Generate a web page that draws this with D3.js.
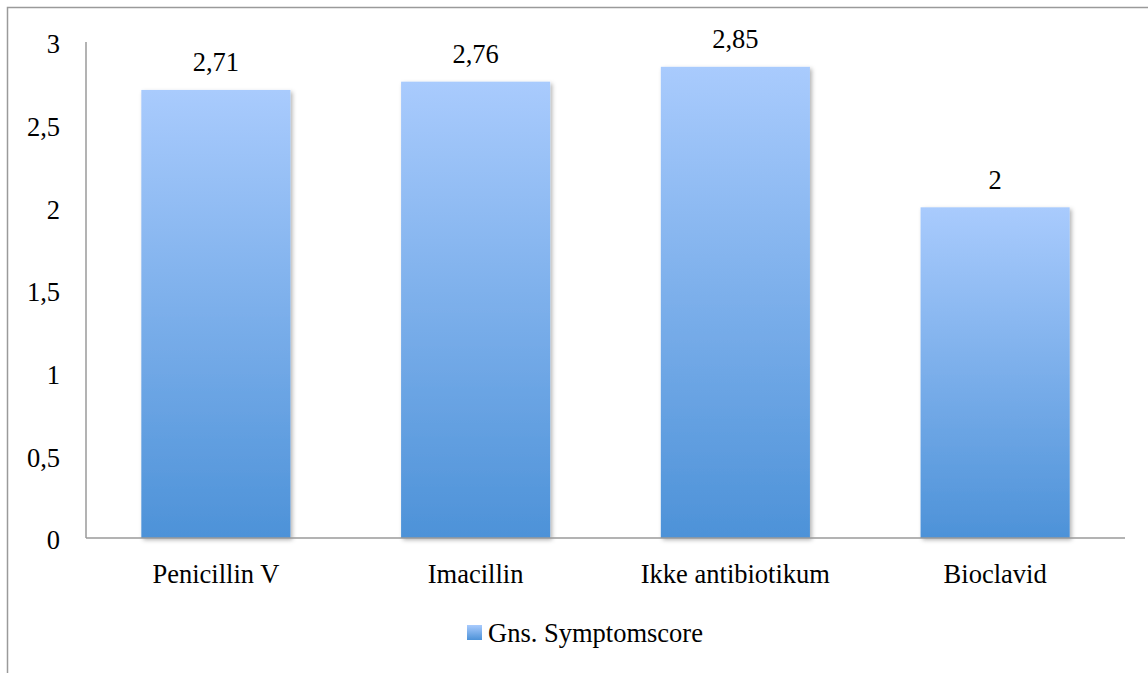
<!DOCTYPE html>
<html>
<head>
<meta charset="utf-8">
<script src="https://cdn.jsdelivr.net/npm/d3@7"></script>
<style>
  body { margin: 0; background: #fff; }
  svg text { font-family: "Liberation Serif", "DejaVu Serif", serif; fill: #000; }
</style>
</head>
<body>
<div class="chart"></div>
<script>
const categories = ["Penicillin V", "Imacillin", "Ikke antibiotikum", "Bioclavid"];
const values = [2.71, 2.76, 2.85, 2];
const valueLabels = ["2,71", "2,76", "2,85", "2"];
const yTicks = [0, 0.5, 1, 1.5, 2, 2.5, 3];
const seriesName = "Gns. Symptomscore";

function init() {
    const w = 1148;
    const h = 673;
    const margin = { left: 86, right: 23, top: 42, bottom: 135 };
    const fontSize = "26.5px";

    const svg = d3.select(".chart")
        .append("svg")
        .attr("width", w)
        .attr("height", h);

    // gradient + shadow like the office chart
    const defs = svg.append("defs");
    const grad = defs.append("linearGradient")
        .attr("id", "barGrad")
        .attr("x1", 0).attr("y1", 0).attr("x2", 0).attr("y2", 1);
    grad.append("stop").attr("offset", "0%").attr("stop-color", "#a9cbfd");
    grad.append("stop").attr("offset", "100%").attr("stop-color", "#4d92d8");

    const shadow = defs.append("filter")
        .attr("id", "shadow")
        .attr("x", "-10%").attr("y", "-10%")
        .attr("width", "130%").attr("height", "130%");
    shadow.append("feDropShadow")
        .attr("dx", 2).attr("dy", 2)
        .attr("stdDeviation", 2)
        .attr("flood-color", "#000")
        .attr("flood-opacity", 0.3);

    // outer chart border (partly outside the window)
    svg.append("rect")
        .attr("x", 7.5).attr("y", 7.5)
        .attr("width", w + 20).attr("height", h + 20)
        .attr("fill", "none")
        .attr("stroke", "#9a9a9a")
        .attr("stroke-width", 1.5);

    const x = d3.scaleBand()
        .domain(categories)
        .range([margin.left, w - margin.right])
        .paddingInner(0.426)
        .paddingOuter(0.213);

    const y = d3.scaleLinear()
        .domain([0, 3])
        .range([h - margin.bottom, margin.top]);

    // y tick labels
    svg.append("g")
        .selectAll("text")
        .data(yTicks)
        .enter()
        .append("text")
        .attr("x", 60)
        .attr("y", d => y(d) + 2)
        .attr("dy", "0.35em")
        .attr("text-anchor", "end")
        .style("font-size", fontSize)
        .text(d => String(d).replace(".", ","));

    // bars
    svg.append("g")
        .selectAll("rect")
        .data(values)
        .enter()
        .append("rect")
        .attr("x", (d, i) => x(categories[i]))
        .attr("y", d => y(d))
        .attr("width", x.bandwidth())
        .attr("height", d => y(0) - y(d))
        .attr("fill", "url(#barGrad)")
        .attr("filter", "url(#shadow)");

    // axes lines
    svg.append("line")
        .attr("x1", margin.left).attr("x2", margin.left)
        .attr("y1", margin.top).attr("y2", y(0))
        .attr("stroke", "#9a9a9a").attr("stroke-width", 1.5);
    svg.append("line")
        .attr("x1", margin.left).attr("x2", w - margin.right)
        .attr("y1", y(0)).attr("y2", y(0))
        .attr("stroke", "#9a9a9a").attr("stroke-width", 1.5);

    // value labels
    svg.append("g")
        .selectAll("text")
        .data(values)
        .enter()
        .append("text")
        .attr("x", (d, i) => x(categories[i]) + x.bandwidth() / 2)
        .attr("y", d => y(d) - 28)
        .attr("dy", "0.35em")
        .attr("text-anchor", "middle")
        .style("font-size", fontSize)
        .text((d, i) => valueLabels[i]);

    // category labels
    svg.append("g")
        .selectAll("text")
        .data(categories)
        .enter()
        .append("text")
        .attr("x", d => x(d) + x.bandwidth() / 2)
        .attr("y", y(0) + 36)
        .attr("dy", "0.35em")
        .attr("text-anchor", "middle")
        .style("font-size", fontSize)
        .text(d => d);

    // legend
    const legend = svg.append("g").attr("transform", "translate(467,625)");
    legend.append("rect")
        .attr("width", 15).attr("height", 15)
        .attr("fill", "url(#barGrad)");
    legend.append("text")
        .attr("x", 21).attr("y", 8)
        .attr("dy", "0.35em")
        .style("font-size", fontSize)
        .text(seriesName);
}

window.onload = init;
</script>
</body>
</html>
